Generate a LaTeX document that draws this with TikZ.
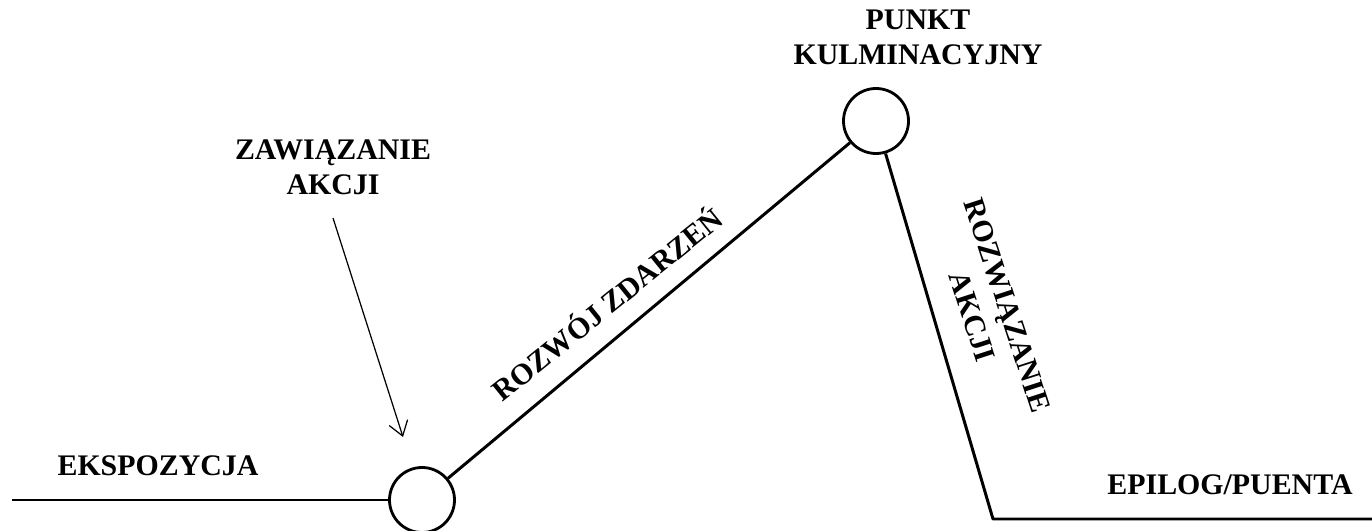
\documentclass[tikz,border=0pt]{standalone}
\usepackage{fontspec}
\setmainfont{Liberation Serif}
\usetikzlibrary{arrows.meta}

\begin{document}
\begin{tikzpicture}[
        label/.style={font=\bfseries\fontsize{17}{20}\selectfont, align=center, inner sep=0pt},
        knot/.style={circle, draw, line width=1.6pt, minimum size=1.3cm, inner sep=0pt},
        plotline/.style={line width=1.7pt, line join=round}
    ]
            \useasboundingbox (0,0) rectangle (27.44,10.62);

            % Draw the two turning points
            \node[knot] (zaw) at (8.44,0.62) {};
            \node[knot] (kulm) at (17.52,8.2) {};
            \coordinate (start) at (0.24,0.62);
            \coordinate (corner) at (19.86,0.24);
            \coordinate (end) at (27.44,0.24);

            % Draw the plot line
            \draw[plotline] (start) -- (zaw);
            \draw[plotline] (zaw) -- (kulm);
            \draw[plotline] (kulm) -- (corner) -- (end);

            % Labels
            \node[label] (ekspo) at (3.16,1.3) {EKSPOZYCJA};
            \node[label] (zawlab) at (6.66,7.28) {ZAWIĄZANIE\\AKCJI};
            \node[label] (kulmlab) at (18.36,9.88) {PUNKT\\KULMINACYJNY};
            \node[label] (epilog) at (24.6,0.92) {EPILOG/PUENTA};
            \node[label, rotate=39] (rozwoj) at (12.12,4.56) {ROZWÓJ ZDARZEŃ};
            \node[label, rotate=-72, font=\bfseries\fontsize{17}{21}\selectfont] (rozw) at (19.8,4.4) {ROZWIĄZANIE\\AKCJI};

            % Arrow to the first turning point
            \coordinate (arrtop) at (6.66,6.26);
            \coordinate (arrtip) at (8.06,1.88);
            \draw[line width=0.7pt, -{Straight Barb[length=8pt, width=11pt]}] (arrtop) -- (arrtip);

        \end{tikzpicture}
\end{document}
